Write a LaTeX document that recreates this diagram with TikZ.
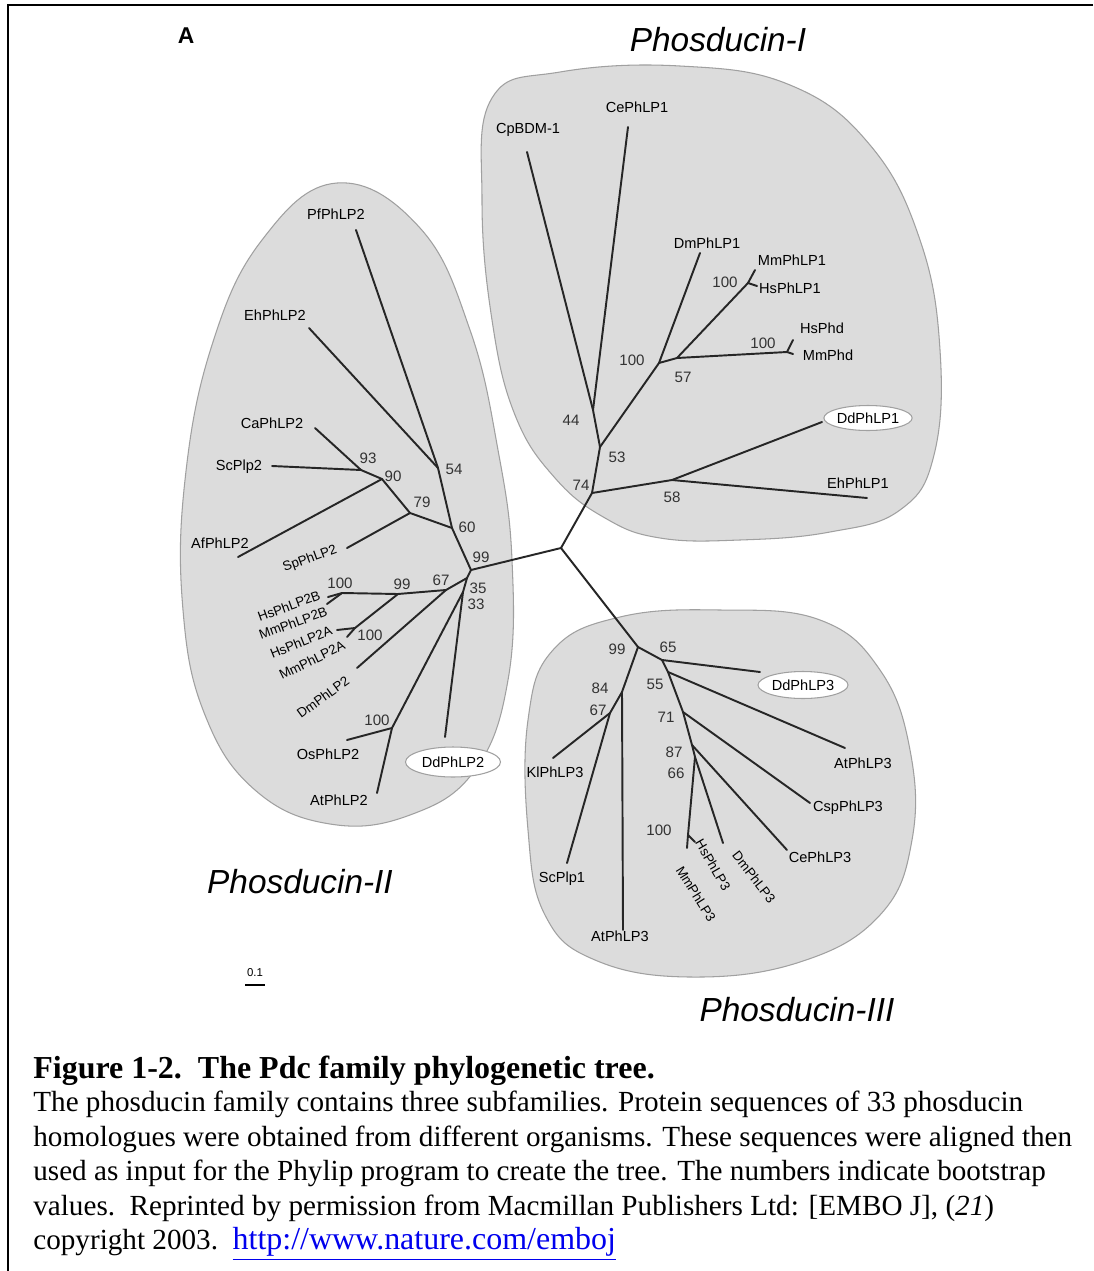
\documentclass[tikz,border=0pt]{standalone}
\usepackage{fontspec}
\setmainfont{Liberation Serif}
\newfontfamily\treefont{Liberation Sans}
\usetikzlibrary{shapes.geometric}

\definecolor{cladegray}{RGB}{220,220,220}
\definecolor{cladeline}{RGB}{160,160,160}
\definecolor{linkblue}{RGB}{0,0,238}

\tikzset{
  branch/.style={line width=1.1pt,black!85,line cap=round},
  leaf/.style={font=\treefont\fontsize{8.3}{9}\selectfont,inner sep=0pt},
  tiltleaf/.style={font=\treefont\fontsize{7.6}{8}\selectfont,inner sep=0pt},
  boot/.style={font=\treefont\fontsize{8.6}{9}\selectfont,inner sep=0pt,black!80},
  clade/.style={fill=cladegray,draw=cladeline,line width=0.6pt},
  ddleaf/.style={leaf,ellipse,draw=cladeline,fill=white,line width=0.6pt},
  familytitle/.style={font=\treefont\itshape\fontsize{19}{21}\selectfont,inner sep=0pt}
}

\begin{document}
\begin{tikzpicture}[x=0.02cm,y=-0.02cm]
\useasboundingbox (0,0) rectangle (1093,1271);
\fill[white] (0,0) rectangle (1093,1271);

% frame
\coordinate (frTL) at (8,5);
\coordinate (frTR) at (1093,5);
\coordinate (frBL) at (8,1271);
\draw[line width=1.2pt] (frTR) -- (frTL) -- (frBL);

% the three subfamilies
\draw[clade] plot[smooth cycle,tension=0.7] coordinates {(337,183) (420,228) (470,330) (498,450) (512,560) (508,680) (475,770) (410,815) (330,824) (255,790) (205,715) (183,610) (185,480) (212,345) (262,240)};
\draw[clade] plot[smooth cycle,tension=0.7] coordinates {(492,98) (560,72) (680,66) (790,85) (870,145) (920,240) (940,350) (934,455) (900,510) (830,532) (740,540) (660,538) (605,518) (555,478) (515,415) (492,320) (482,200)};
\draw[clade] plot[smooth cycle,tension=0.7] coordinates {(553,650) (620,617) (720,610) (820,620) (880,670) (910,750) (912,840) (880,915) (800,962) (690,977) (595,960) (545,915) (528,830) (528,720)};

% tree points
\foreach \n/\x/\y in {root/561/548,
  n99a/471/570, n60/452/528, n54/438/468, tPf/356/230, tEh/309/328,
  n79/410/513, n90/382/479, n93/361/470, tCa/315/428, tScb/272/466,
  tAfb/238/557, tSpb/347/548, n35/467/578, n67a/446/590, n99b/398/594,
  n100a/342/593, tHsB/328/597, tMmB/327/604, n100b/355/628, tHsA/337/630,
  tMmA/347/637, tDmb/357/668, n33/463/592, n100c/392/728, tOsb/347/740,
  tAtb/377/793, tDdb/445/737,
  n74/592/493, n53/600/447, n44/593/410, tCp/527/152, tCea/628/127,
  n100d/659/363, tDma/700/253, n57/677/358, n100e/748/283, tMma/755/270,
  tHsa/757/286, n100f/787/352, tHsPhd/793/340, tMmPhd/793/354,
  n58/672/480, tDda/822/422, tEha/867/498,
  n99c/638/647, n65/662/660, tDdc/760/672, n55/668/672, tAtc/845/748,
  n71/683/712, tCsp/810/803, n87/692/745, tCec/787/850, n66/695/757,
  tDmc/723/843, n100g/688/835, tHsc/695/842, tMmc/687/848,
  n84/622/692, tAtd/623/930, n67b/610/713, tKl/553/758, tScc/567/863}
  \coordinate (\n) at (\x,\y);

% branches
\foreach \a/\b in {root/n74, root/n99a, root/n99c,
  n99a/n60, n60/n54, n54/tPf, n54/tEh, n60/n79, n79/n90, n90/n93,
  n93/tCa, n93/tScb, n90/tAfb, n79/tSpb, n99a/n35, n35/n67a, n67a/n99b,
  n99b/n100a, n100a/tHsB, n100a/tMmB, n99b/n100b, n100b/tHsA, n100b/tMmA,
  n67a/tDmb, n35/n33, n33/n100c, n100c/tOsb, n100c/tAtb, n33/tDdb,
  n74/n53, n53/n44, n44/tCp, n44/tCea, n53/n100d, n100d/tDma, n100d/n57,
  n57/n100e, n100e/tMma, n100e/tHsa, n57/n100f, n100f/tHsPhd, n100f/tMmPhd,
  n74/n58, n58/tDda, n58/tEha,
  n99c/n65, n65/tDdc, n65/n55, n55/tAtc, n55/n71, n71/tCsp, n71/n87,
  n87/tCec, n87/n66, n66/tDmc, n66/n100g, n100g/tHsc, n100g/tMmc,
  n99c/n84, n84/tAtd, n84/n67b, n67b/tKl, n67b/tScc}
  \draw[branch] (\a) -- (\b);

% leaf names
\foreach \n/\x/\y/\t in {lPf/336/214/PfPhLP2, lEh/275/315/EhPhLP2,
  lCa/272/423/CaPhLP2, lScb/239/467/ScPlp2, lAfb/220/543/AfPhLP2,
  lOsb/328/754/OsPhLP2, lAtb/339/800/AtPhLP2,
  lCp/528/130/CpBDM-1, lCea/637/107/CePhLP1, lDma/707/243/DmPhLP1,
  lMma/792/260/MmPhLP1, lHsa/790/288/HsPhLP1, lHsPhd/822/328/HsPhd,
  lMmPhd/828/355/MmPhd, lEha/858/483/EhPhLP1,
  lAtc/863/763/AtPhLP3, lCsp/848/808/CspPhLP3, lCec/820/857/CePhLP3,
  lKl/555/772/KlPhLP3, lScc/562/879/ScPlp1, lAtd/620/936/AtPhLP3}
  \node[leaf] (\n) at (\x,\y) {\t};

% tilted leaf names
\foreach \n/\x/\y/\r/\t in {lSpb/310/559/20/SpPhLP2,
  lHsB/289/606/20/HsPhLP2B, lMmB/293/623/20/MmPhLP2B,
  lHsA/301/642/22/HsPhLP2A, lMmA/312/660/26/MmPhLP2A, lDmb/323/697/36/DmPhLP2,
  lDmc/754/877/-52/DmPhLP3, lHsc/713/865/-60/HsPhLP3, lMmc/696/894/-58/MmPhLP3}
  \node[tiltleaf,rotate=\r] (\n) at (\x,\y) {\t};

\node[ddleaf,minimum width=1.9cm,minimum height=0.6cm] (lDdb) at (453,762) {DdPhLP2};
\node[ddleaf,minimum width=1.64cm,minimum height=0.5cm] (lDda) at (868,418) {DdPhLP1};
\node[ddleaf,minimum width=1.8cm,minimum height=0.54cm] (lDdc) at (803,685) {DdPhLP3};

% bootstrap values
\foreach \n/\x/\y/\t in {b93/368/458/93, b90/393/476/90, b79/422/502/79,
  b54/454/469/54, b60/467/527/60, b99a/481/557/99, b67a/441/580/67,
  b99b/402/584/99, b100a/340/583/100, b100b/370/635/100, b35/478/588/35,
  b33/476/604/33, b100c/377/720/100,
  b44/571/420/44, b53/617/457/53, b74/581/485/74, b100d/632/360/100,
  b57/683/377/57, b100e/725/282/100, b100f/763/343/100, b58/672/497/58,
  b99c/617/649/99, b65/668/647/65, b55/655/684/55, b84/600/688/84,
  b67b/598/710/67, b71/666/717/71, b87/674/752/87, b66/676/773/66,
  b100g/659/830/100}
  \node[boot] (\n) at (\x,\y) {\t};

% panel letter, subfamily names, scale
\node[font=\treefont\bfseries\fontsize{13}{14}\selectfont,inner sep=0pt] (panel) at (186,36) {A};
\node[familytitle] (famI) at (718,40) {Phosducin-I};
\node[familytitle] (famII) at (300,882) {Phosducin-II};
\node[familytitle] (famIII) at (797,1010) {Phosducin-III};
\node[font=\treefont\fontsize{6.5}{7}\selectfont,inner sep=0pt] (scalelbl) at (255,973) {0.1};
\coordinate (barL) at (245,985);
\coordinate (barR) at (265,985);
\draw[line width=0.6pt] (barL) -- (barR);

% caption
\node[anchor=base west,inner sep=0pt,font=\bfseries\fontsize{18.2}{20}\selectfont] (captitle) at (33,1078) {Figure 1-2.\ \ The Pdc family phylogenetic tree.};
\node[anchor=north west,inner sep=0pt,align=left,font=\fontsize{16.6}{19.6}\selectfont] (captext) at (33,1091) {The phosducin family contains three subfamilies. Protein sequences of 33 phosducin\\
homologues were obtained from different organisms. These sequences were aligned then\\
used as input for the Phylip program to create the tree. The numbers indicate bootstrap\\
values.\ \ Reprinted by permission from Macmillan Publishers Ltd: [EMBO J], (\textit{21})\\
copyright 2003.\ \ {\fontsize{18.2}{19.6}\selectfont\textcolor{linkblue}{\underline{http://www.nature.com/emboj}}}};
\end{tikzpicture}
\end{document}
